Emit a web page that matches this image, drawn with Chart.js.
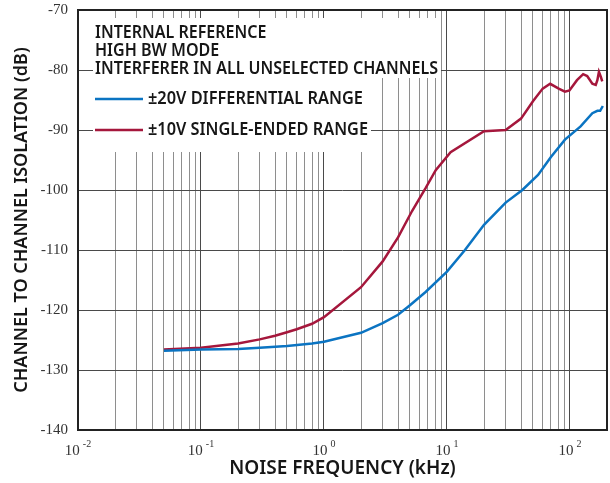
<!DOCTYPE html>
<html lang="en">
<head>
<meta charset="UTF-8" />
<title>Channel to Channel Isolation vs Noise Frequency</title>
<script src="https://cdn.jsdelivr.net/npm/chart.js"></script>
<style>
  html, body { margin: 0; padding: 0; background: #fff; }
  #wrap { width: 610px; height: 483px; }
</style>
</head>
<body>
<div id="wrap"><canvas id="chart" width="610" height="483"></canvas></div>
<script>
  // ±20V differential range (kHz, dB)
  const freqDiff = [0.05, 0.1, 0.2, 0.3, 0.5, 0.8, 1, 2, 3, 4, 5, 6.7, 10, 14, 20, 30, 41, 55, 70, 91, 122, 152, 167, 176, 185];
  const isoDiff  = [-126.8, -126.6, -126.5, -126.3, -126.0, -125.6, -125.3, -123.8, -122.2, -120.8, -119.2, -117.0, -113.6, -110.0, -105.8, -102.1, -100.0, -97.5, -94.5, -91.6, -89.4, -87.2, -86.8, -86.8, -86.0];

  // ±10V single-ended range (kHz, dB)
  const freqSE = [0.05, 0.1, 0.2, 0.3, 0.4, 0.5, 0.6, 0.8, 1, 2, 3, 4, 5.2, 6.7, 8.1, 10.7, 20, 30, 40, 50, 60, 69, 81, 91, 99, 114, 128, 138, 152, 162, 167, 172, 178, 183];
  const isoSE  = [-126.6, -126.3, -125.6, -124.9, -124.3, -123.7, -123.2, -122.3, -121.2, -116.2, -111.9, -107.9, -103.5, -99.7, -96.7, -93.7, -90.2, -90.0, -88.1, -85.2, -83.1, -82.3, -83.1, -83.6, -83.4, -81.7, -80.7, -81.0, -82.3, -82.5, -81.7, -80.3, -81.1, -81.9];

  const seriesNames = ['±20V DIFFERENTIAL RANGE', '±10V SINGLE-ENDED RANGE'];
  const seriesColors = ['#0b74c2', '#a5173c'];
  const notes = ['INTERNAL REFERENCE', 'HIGH BW MODE', 'INTERFERER IN ALL UNSELECTED CHANNELS'];
  const xDecades = [-2, -1, 0, 1, 2];
  const xMin = 0.01, xMax = 200;
  const yMin = -140, yMax = -70, yStep = 10;

  // every 1..9 x 10^n line of the log grid, up to the right edge
  const xGrid = [];
  xDecades.forEach(e => {
    for (let m = 1; m <= 9; m++) {
      const v = +(m * Math.pow(10, e)).toPrecision(6);
      if (v <= xMax) xGrid.push(v);
    }
  });
  if (xGrid[xGrid.length - 1] !== xMax) xGrid.push(xMax);

  const isDecade = v => { const l = Math.log10(v); return Math.abs(l - Math.round(l)) < 1e-6; };

  const sans = '"Noto Sans", "Open Sans", sans-serif';
  const serif = '"Liberation Serif", "DejaVu Serif", serif';

  // draw text squeezed/stretched to a given width
  function fitText(ctx, str, x, y, w) {
    const m = ctx.measureText(str).width;
    ctx.save();
    ctx.translate(x, y);
    ctx.scale(w / m, 1);
    ctx.fillText(str, 0, 0);
    ctx.restore();
  }

  const notePlugin = {
    id: 'notes',
    beforeDatasetsDraw(chart) {
      const ctx = chart.ctx;
      ctx.save();
      // white panels behind the note text, hiding the grid there
      ctx.fillStyle = '#fff';
      ctx.fillRect(93, 18, 348, 60);
      ctx.fillRect(93, 78, 278, 74);

      ctx.fillStyle = '#161616';
      ctx.textAlign = 'left';
      ctx.textBaseline = 'alphabetic';
      ctx.font = '600 17px ' + sans;
      const base = ctx.measureText(notes[2]).width;
      const sx = 343 / base;
      [38, 56, 74].forEach((y, i) => {
        fitText(ctx, notes[i], 95, y, ctx.measureText(notes[i]).width * sx);
      });

      // legend entries
      [[99, 104, 215], [130, 135, 220]].forEach(([ly, ty, w], i) => {
        ctx.strokeStyle = seriesColors[i];
        ctx.lineWidth = 2.5;
        ctx.beginPath();
        ctx.moveTo(95, ly);
        ctx.lineTo(143, ly);
        ctx.stroke();
        fitText(ctx, seriesNames[i], 148, ty, w);
      });
      ctx.restore();
    },
    afterDraw(chart) {
      const ctx = chart.ctx;
      const a = chart.chartArea;
      const xs = chart.scales.x;
      ctx.save();
      // plot frame
      ctx.strokeStyle = '#222';
      ctx.lineWidth = 2;
      ctx.strokeRect(a.left, a.top, a.right - a.left, a.bottom - a.top);

      // decade labels 10^n
      ctx.fillStyle = '#333';
      ctx.textBaseline = 'alphabetic';
      ctx.textAlign = 'left';
      xDecades.forEach(e => {
        const px = xs.getPixelForValue(Math.pow(10, e));
        ctx.font = '15px ' + serif;
        const wb = ctx.measureText('10').width;
        ctx.font = '10px ' + serif;
        const sup = String(e);
        const ws = ctx.measureText(sup).width;
        const gap = 3;
        const x0 = px - (wb + gap + ws) / 2;
        ctx.font = '15px ' + serif;
        ctx.fillText('10', x0, 455);
        ctx.font = '10px ' + serif;
        ctx.fillText(sup, x0 + wb + gap, 447);
      });
      ctx.restore();
    }
  };

  new Chart(document.getElementById('chart'), {
    type: 'line',
    data: {
      datasets: [
        {
          label: seriesNames[0],
          data: freqDiff.map((f, i) => ({ x: f, y: isoDiff[i] })),
          borderColor: seriesColors[0],
          borderWidth: 2.5,
          pointRadius: 0,
          tension: 0,
          fill: false
        },
        {
          label: seriesNames[1],
          data: freqSE.map((f, i) => ({ x: f, y: isoSE[i] })),
          borderColor: seriesColors[1],
          borderWidth: 2.5,
          pointRadius: 0,
          tension: 0,
          fill: false
        }
      ]
    },
    options: {
      responsive: false,
      animation: false,
      devicePixelRatio: 1,
      layout: { padding: { top: 10, right: 3, left: 0, bottom: 0 } },
      plugins: { legend: { display: false }, tooltip: { enabled: false } },
      scales: {
        x: {
          type: 'logarithmic',
          min: xMin,
          max: xMax,
          afterBuildTicks: s => { s.ticks = xGrid.map(v => ({ value: v })); },
          afterFit: s => { s.height = 53; s.paddingLeft = 0; s.paddingRight = 0; },
          ticks: { display: false },
          border: { display: false },
          grid: {
            drawTicks: false,
            lineWidth: 1,
            color: c => (c.tick && isDecade(c.tick.value)) ? '#4a4a4a' : '#8e8e8e'
          },
          title: {
            display: true,
            text: 'NOISE FREQUENCY (kHz)',
            color: '#161616',
            font: { family: sans, size: 19, weight: '600' },
            padding: { top: 0, bottom: 3 }
          }
        },
        y: {
          min: yMin,
          max: yMax,
          afterFit: s => { s.width = 78; s.paddingTop = 0; s.paddingBottom = 0; },
          ticks: {
            stepSize: yStep,
            padding: 10,
            color: '#333',
            font: { family: serif, size: 15 },
            callback: v => String(v)
          },
          border: { display: false },
          grid: { drawTicks: false, color: '#4a4a4a', lineWidth: 1 },
          title: {
            display: true,
            text: 'CHANNEL TO CHANNEL ISOLATION (dB)',
            color: '#161616',
            font: { family: sans, size: 18, weight: '600' },
            padding: { top: 11, bottom: 0 }
          }
        }
      }
    },
    plugins: [notePlugin]
  });
</script>
</body>
</html>
